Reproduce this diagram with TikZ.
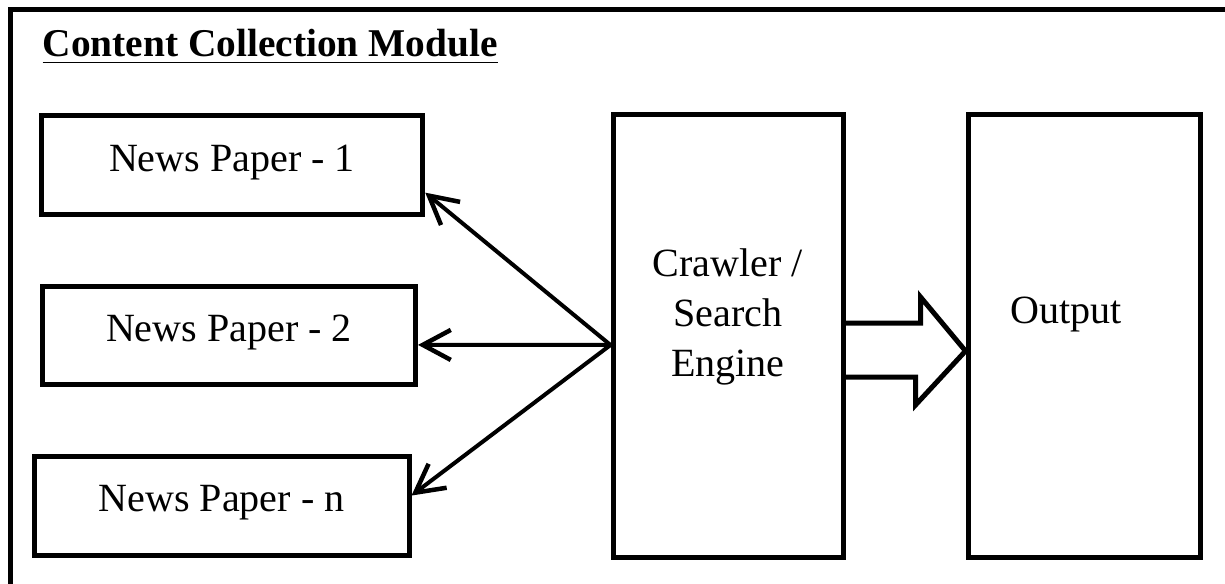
\documentclass[tikz,border=0pt]{standalone}
\usepackage{fontspec}
\setmainfont{Liberation Serif}
\usetikzlibrary{arrows.meta,calc}

\begin{document}
\begin{tikzpicture}[
  paper/.style={draw, line width=0.05cm, inner sep=0pt, text height=0.3cm, text depth=0.18cm,
    font=\fontsize{11.4}{14}\selectfont},
  tall/.style={draw, line width=0.05cm, inner sep=0pt, minimum width=2.3cm, minimum height=4.42cm},
  link/.style={line width=0.04cm, -{Straight Barb[length=2.8mm,width=3mm,line width=0.045cm]}},
  bigarrow/.style={line width=0.05cm, line join=miter}
]
\clip (0,0) rectangle (12.25,5.83);
\coordinate (P1) at (2.32,4.175);
\coordinate (P2) at (2.29,2.48);
\coordinate (Pn) at (2.215,0.775);
\coordinate (C) at (7.28,2.47);
\coordinate (O) at (10.84,2.47);

% frame, cut off at right and bottom
\draw[line width=0.05cm] (0.105,-1) -- (0.105,5.73) -- (13,5.73);
\node[anchor=base west, inner sep=0pt, font=\fontsize{11.2}{14}\selectfont\bfseries] (title) at (0.42,5.26)
  {\underline{Content Collection Module}};

\node[paper, minimum width=3.815cm, minimum height=0.99cm] (np1) at (P1) {News Paper - 1};
\node[paper, minimum width=3.73cm, minimum height=0.98cm] (np2) at (P2) {News Paper - 2};
\node[paper, minimum width=3.75cm, minimum height=0.99cm] (npn) at (Pn) {News Paper - n};

\node[tall] (crawler) at (C) {};
\node[tall, minimum width=2.32cm] (output) at (O) {};
\node[align=center, inner sep=0pt, font=\fontsize{11.4}{14.2}\selectfont] (crawlertext) at ($(C)+(0,0.19)$)
  {Crawler /\\Search\\Engine};
\node[inner sep=0pt, font=\fontsize{11.4}{14}\selectfont] (outputtext) at (10.66,2.69) {Output};

\coordinate (hub) at ($(crawler.west)+(0,-0.09)$);
\draw[link] (hub) -- (np1.-8);
\draw[link] (hub) -- (np2.-3);
\draw[link] (hub) -- (npn.3);

\coordinate (tip) at ($(output.west)+(0,-0.15)$);
\draw[bigarrow] ($(crawler.east)+(0,0.13)$) -- ++(0.75,0) -- ++(0,0.26) -- (tip)
  -- ++(-0.5,-0.54) -- ++(0,0.28) -- ($(crawler.east)+(0,-0.41)$);
\end{tikzpicture}
\end{document}
